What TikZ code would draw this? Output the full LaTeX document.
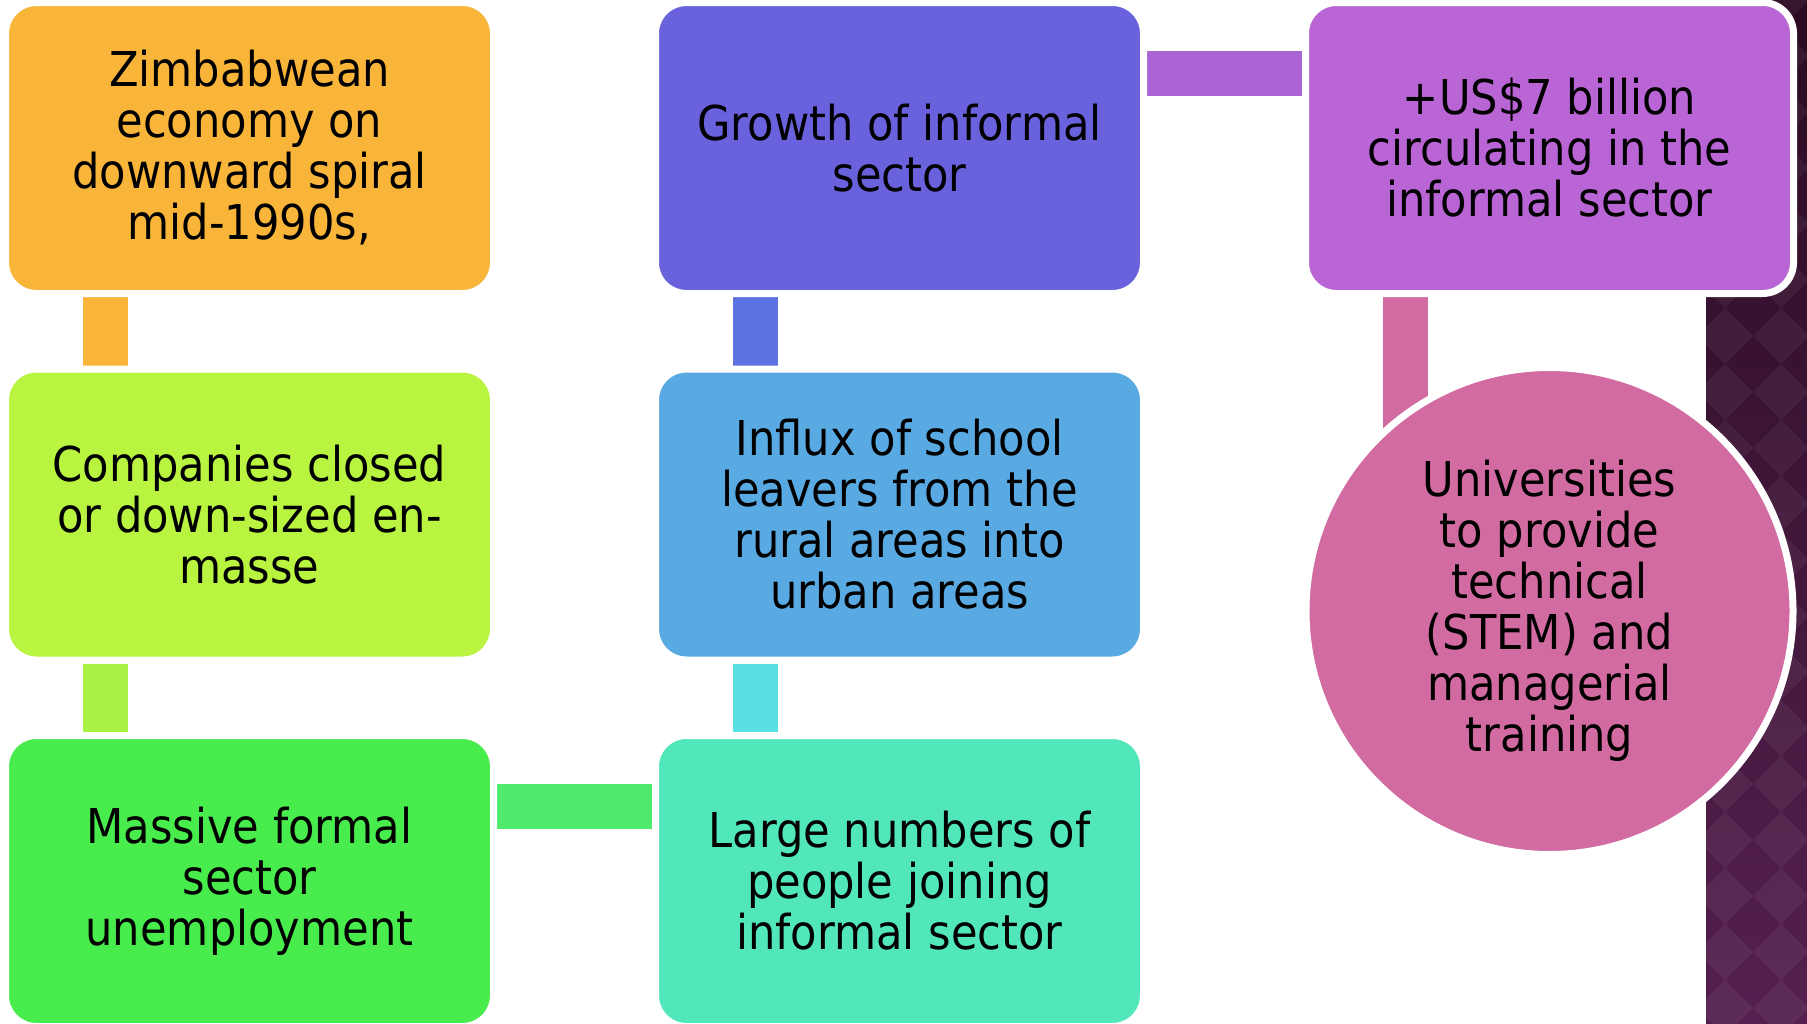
\documentclass[tikz,border=0pt]{standalone}
\usepackage{fontspec}
\setmainfont{DejaVu Sans}[FakeStretch=0.9]
\usetikzlibrary{backgrounds}

\definecolor{zimc}{HTML}{F9B53A}
\definecolor{compc}{HTML}{B8F440}
\definecolor{massc}{HTML}{48EC4C}
\definecolor{largec}{HTML}{52E7BA}
\definecolor{influxc}{HTML}{59AAE2}
\definecolor{growthc}{HTML}{6A62DC}
\definecolor{billc}{HTML}{B965D5}
\definecolor{univc}{HTML}{D16BA1}
\definecolor{complink}{HTML}{A8F244}
\definecolor{masslink}{HTML}{4DEA6C}
\definecolor{largelink}{HTML}{58E0E2}
\definecolor{influxlink}{HTML}{5B72E0}
\definecolor{growthlink}{HTML}{AA64D4}
\definecolor{bgtop}{HTML}{2A0B22}
\definecolor{bgbot}{HTML}{55204F}

\begin{document}
\begin{tikzpicture}[x=1pt,y=-1pt,
  box/.style={rectangle,rounded corners=31pt,draw=white,line width=7pt,
    minimum width=488pt,minimum height=291pt,inner sep=0pt,align=center,
    font=\fontsize{48}{51}\selectfont,text=black},
  link/.style={line width=45pt}]
\useasboundingbox (0,0) rectangle (1807,1023);
% boxes
\node[box,fill=zimc] (zim) at (249.5,148) {Zimbabwean\\economy on\\downward spiral\\mid-1990s,};
\node[box,fill=compc] (comp) at (249.5,514.5) {Companies closed\\or down-sized en-\\masse};
\node[box,fill=massc] (mass) at (249.5,881) {Massive formal\\sector\\unemployment};
\node[box,fill=largec] (large) at (899.5,881) {Large numbers of\\people joining\\informal sector};
\node[box,fill=influxc] (influx) at (899.5,514.5) {Influx of school\\leavers from the\\rural areas into\\urban areas};
\node[box,fill=growthc] (growth) at (899.5,148) {Growth of informal\\sector};
\node[box,fill=billc] (bill) at (1549.5,148) {+US\$7 billion\\circulating in the\\informal sector};
\node[box,circle,minimum size=487pt,fill=univc] (univ) at (1549.5,611) {Universities\\to provide\\technical\\(STEM) and\\managerial\\training};
% background strip and links
\begin{scope}[on background layer]
\shade[top color=bgtop,bottom color=bgbot] (1706,0) rectangle (1807,1023);
\begin{scope}
\clip (1706,0) rectangle (1807,1023);
\foreach \i in {0,...,2}
  \foreach \j in {0,...,19}
    \fill[white,opacity=0.05] ({1725+56*\i},{56*\j-28}) -- ++(28,28) -- ++(-28,28) -- ++(-28,-28) -- cycle;
\end{scope}
\draw[link,zimc] ([xshift=103pt]zim.south west) -- ([xshift=103pt]comp.north west);
\draw[link,complink] ([xshift=103pt]comp.south west) -- ([xshift=103pt]mass.north west);
\draw[link,masslink] ([yshift=-74.5pt]mass.north east) -- ([yshift=-74.5pt]large.north west);
\draw[link,largelink] ([xshift=103pt]large.north west) -- ([xshift=103pt]influx.south west);
\draw[link,influxlink] ([xshift=103pt]influx.north west) -- ([xshift=103pt]growth.south west);
\draw[link,growthlink] ([yshift=-74.5pt]growth.north east) -- ([yshift=-74.5pt]bill.north west);
\draw[link,univc] ([xshift=103pt]bill.south west) -- ([xshift=103pt]bill.south west |- univ.center);
\end{scope}
\end{tikzpicture}
\end{document}
